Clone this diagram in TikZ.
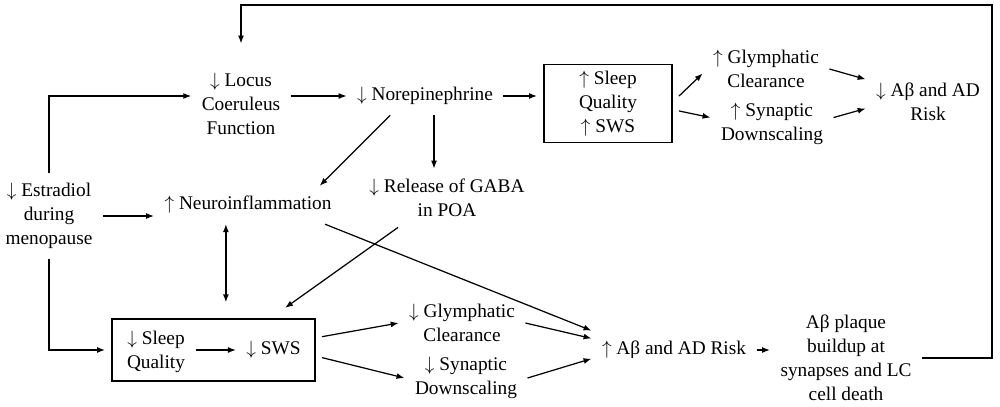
\documentclass[tikz,border=0pt]{standalone}
\usepackage{fontspec}
\setmainfont{Liberation Serif}
\usepackage{tikz}
\usetikzlibrary{arrows.meta,calc}

\begin{document}
\begin{tikzpicture}[x=0.02cm, y=-0.02cm,
    every node/.style={font=\fontsize{11pt}{13.6pt}\selectfont},
    lbl/.style={align=center, inner sep=2pt, outer sep=4pt},
    frame/.style={draw, line width=1.1pt, align=center, inner sep=2pt, outer sep=4pt},
    arr/.style={line width=0.7pt, -{Latex[length=4.5pt,width=3.4pt]}},
    dblarr/.style={line width=0.7pt, {Latex[length=4.5pt,width=3.4pt]}-{Latex[length=4.5pt,width=3.4pt]}}]
    \useasboundingbox (0,0) rectangle (1000,406);

    % Upper chain
    \node[lbl] (lc) at (241,104) {$\downarrow$ Locus\\Coeruleus\\Function};
    \node[lbl] (ne) at (425,96) {$\downarrow$ Norepinephrine};
    \node[frame, minimum width=2.56cm, minimum height=1.56cm] (slup) at (608,103.5) {$\uparrow$ Sleep\\Quality\\$\uparrow$ SWS};
    \node[lbl] (glup) at (766,69) {$\uparrow$ Glymphatic\\Clearance};
    \node[lbl] (syup) at (772,124) {$\uparrow$ Synaptic\\Downscaling};
    \node[lbl] (riskdn) at (928,102) {$\downarrow$ Aβ and AD\\Risk};

    % Middle row
    \node[lbl] (estr) at (49,216) {$\downarrow$ Estradiol\\during\\menopause};
    \node[lbl] (neuro) at (248,205) {$\uparrow$ Neuroinflammation};
    \node[lbl] (gaba) at (447,198) {$\downarrow$ Release of GABA\\in POA};

    % Lower chain
    \node[frame, minimum width=4.06cm, minimum height=1.24cm] (lowbox) at (213.5,350) {};
    \node[lbl] (sqdn) at (156,352) {$\downarrow$ Sleep\\Quality};
    \node[lbl] (swsdn) at (273.5,350) {$\downarrow$ SWS};
    \node[lbl] (gldn) at (462,323) {$\downarrow$ Glymphatic\\Clearance};
    \node[lbl] (sydn) at (466,378) {$\downarrow$ Synaptic\\Downscaling};
    \node[lbl] (riskup) at (674,350) {$\uparrow$ Aβ and AD Risk};
    \node[lbl] (plaque) at (846,358) {Aβ plaque\\buildup at\\synapses and LC\\cell death};
    \coordinate (fbtr) at (992,5);

    % Arrows, upper chain
    \draw[arr] (estr.north) |- (lc.west |- ne.west);
    \draw[arr] (lc.east |- ne.west) -- (ne.west);
    \draw[arr] (ne.east) -- (ne.east -| slup.west);
    \draw[arr] (slup.6) -- (glup.184);
    \draw[arr] (slup.354) -- (syup.174);
    \draw[arr] (glup.east) -- (riskdn.160);
    \draw[arr] (syup.6) -- (riskdn.186);
    \draw[arr] (ne.209) -- (neuro.15);
    \draw[arr] (ne.295) -- (ne.295 |- gaba.north);

    % Arrows, middle and lower chain
    \draw[arr] (estr.east) -- (estr.east -| neuro.west);
    \draw[arr] (estr.south) |- (lowbox.west);
    \draw[dblarr, shorten >=5.5pt] (neuro.221) -- (neuro.221 |- lowbox.north);
    \draw[arr, shorten >=4pt] (gaba.211) -- (lowbox.30);
    \draw[arr] (neuro.346) -- (riskup.north west);
    \draw[arr] (swsdn.west -| sqdn.east) -- (swsdn.west);
    \draw[arr] (lowbox.7) -- (gldn.west);
    \draw[arr] (lowbox.356) -- (sydn.west);
    \draw[arr] (gldn.east) -- (riskup.172);
    \draw[arr] (sydn.east) -- (riskup.186);
    \draw[arr] (riskup.east) -- (riskup.east -| plaque.west);

    % Feedback loop
    \draw[arr, shorten >=11pt] (plaque.east) -| (fbtr) -| (lc.north);
\end{tikzpicture}
\end{document}
